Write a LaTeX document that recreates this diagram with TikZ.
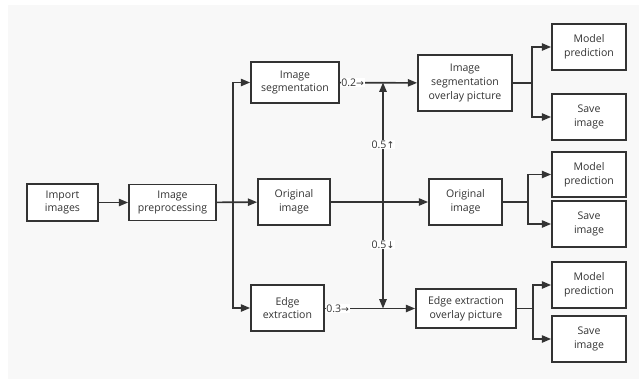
\documentclass[tikz,border=0pt]{standalone}
\usepackage{fontspec}
\setmainfont{Open Sans}
\newfontfamily\arrowfont{DejaVu Sans}
\usetikzlibrary{arrows.meta}
\definecolor{inkgray}{RGB}{51,51,51}
\definecolor{canvasgray}{RGB}{248,248,248}
\newcommand\wtarrow[1]{{\arrowfont\fontsize{7}{7}\selectfont#1}}
\begin{document}
\begin{tikzpicture}[
  x=0.75pt,y=-0.75pt,line width=1.2pt,draw=inkgray,
  every node/.style={inner sep=1pt,text=inkgray,
    font=\fontsize{7.9}{10.2}\selectfont},
  stage/.style 2 args={draw=inkgray,fill=white,align=center,line width=1.3pt,
    minimum width=#1*0.75pt,minimum height=#2*0.75pt},
  flow/.style={draw=inkgray,-{Triangle[length=7pt,width=5.5pt]}},
  weight/.style={fill=white,inner sep=0.5pt}
]
  \useasboundingbox (0,0) rectangle (639,379);
  \fill[canvasgray] (8,5) rectangle (639,379);

  % input side
  \node[stage={71}{37}] (imp) at (62.5,202.5) {Import\\images};
  \node[stage={87}{36}] (pre) at (172.5,202.5) {Image\\preprocessing};

  % three processed pictures
  \node[stage={88}{41}] (seg) at (295,82.5) {Image\\segmentation};
  \node[stage={72}{46}] (orig) at (294,202) {Original\\image};
  \node[stage={73}{46}] (edge) at (287.5,308) {Edge\\extraction};

  \node[stage={94}{56}] (segov) at (465,83)
    {Image\\segmentation\\overlay picture};
  \node[stage={73}{46}] (origov) at (465.5,202) {Original\\image};
  \node[stage={100}{39}] (edgeov) at (466,308.5)
    {Edge extraction\\overlay picture};

  % outputs
  \node[stage={74}{46}] (pred1) at (589,47) {Model\\prediction};
  \node[stage={74}{46}] (save1) at (589,117) {Save\\image};
  \node[stage={74}{45}] (pred2) at (589,174.5) {Model\\prediction};
  \node[stage={74}{46}] (save2) at (589,224) {Save\\image};
  \node[stage={74}{46}] (pred3) at (589,285) {Model\\prediction};
  \node[stage={74}{46}] (save3) at (589,339) {Save\\image};

  \coordinate (split) at (233,202);
  \coordinate (mix) at (383,202);
  \coordinate (fork1) at (532,83);
  \coordinate (fork2) at (528,202);
  \coordinate (fork3) at (533,308.5);

  \draw[flow] (imp) -- (pre);
  \draw[flow] (pre) -- (orig);
  \draw[flow] (split) |- (seg);
  \draw[flow] (split) |- (edge);

  \draw[flow] (seg) -- node[weight,anchor=west,pos=0]
    {0.2\wtarrow{→}} (segov);
  \draw[flow] (orig) -- (origov);
  \draw[flow] (edge.east |- edgeov) -- node[weight,anchor=west,pos=0]
    {0.3\wtarrow{→}} (edgeov);

  % blending weights
  \draw[flow] (mix) -- node[weight,pos=0.48] {0.5\wtarrow{↑}} (mix |- seg);
  \draw[flow] (mix) -- node[weight,pos=0.4] {0.5\wtarrow{↓}} (mix |- edgeov);

  \draw (segov) -- (fork1);
  \draw[flow] (fork1) |- (pred1);
  \draw[flow] (fork1) |- (save1);
  \draw (origov) -- (fork2);
  \draw[flow] (fork2) |- (pred2);
  \draw[flow] (fork2) |- (save2);
  \draw (edgeov) -- (fork3);
  \draw[flow] (fork3) |- (pred3);
  \draw[flow] (fork3) |- (save3);
\end{tikzpicture}
\end{document}
